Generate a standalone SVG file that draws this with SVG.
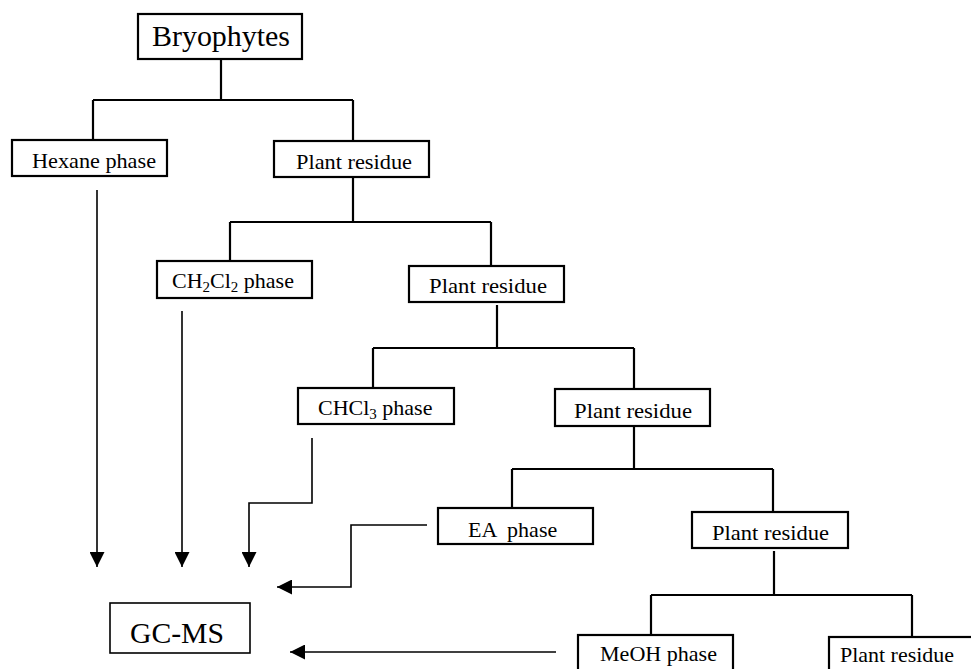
<svg xmlns="http://www.w3.org/2000/svg" width="971" height="669" viewBox="0 0 971 669">
<defs>
<style>
.box{fill:#fff;stroke:#000;stroke-width:2.2}
.t{font-family:"Liberation Serif","Times New Roman",serif;font-size:22px;fill:#000}
.big{font-size:30px}
.tree{fill:none;stroke:#000;stroke-width:2.2}
.arr{fill:none;stroke:#000;stroke-width:1.6}
</style>
<marker id="ah" viewBox="0 0 10 10" refX="10" refY="5" markerWidth="15" markerHeight="15" markerUnits="userSpaceOnUse" orient="auto">
<path d="M0,0 L10,5 L0,10 Z" fill="#000"/>
</marker>
</defs>
<rect width="971" height="669" fill="#fff"/>
<g id="connectors">
<path class="tree" d="M221,59 V100 M93,100 H353 M93,100 V140 M353,100 V141"/>
<path class="tree" d="M353,177 V222 M230,222 H491 M230,222 V261 M491,222 V266"/>
<path class="tree" d="M497,305 V348 M373,348 H634 M373,348 V388 M634,348 V389"/>
<path class="tree" d="M634,426 V469 M512,469 H773 M512,469 V508 M773,469 V512"/>
<path class="tree" d="M774,551 V595 M651,595 H912 M651,595 V635 M912,595 V637"/>
<path class="arr" d="M97,190 V567" marker-end="url(#ah)"/>
<path class="arr" d="M182,311 V567" marker-end="url(#ah)"/>
<path class="arr" d="M312,438 V503 H249 V567" marker-end="url(#ah)"/>
<path class="arr" d="M427,525 H351 V587 H277" marker-end="url(#ah)"/>
<path class="arr" d="M556,652 H290" marker-end="url(#ah)"/>
</g>
<g id="bryophytes"><rect class="box" x="138" y="14" width="164" height="45"/><text class="t big" x="152" y="46" textLength="138" lengthAdjust="spacingAndGlyphs">Bryophytes</text></g>
<g id="hexane"><rect class="box" x="12" y="140" width="155" height="36"/><text class="t" x="32" y="168" textLength="124" lengthAdjust="spacingAndGlyphs">Hexane phase</text></g>
<g id="residue1"><rect class="box" x="274" y="141" width="155" height="36"/><text class="t" x="296" y="169" textLength="116" lengthAdjust="spacingAndGlyphs">Plant residue</text></g>
<g id="ch2cl2"><rect class="box" x="157" y="261" width="155" height="37"/><text class="t" x="172" y="288">CH<tspan font-size="15" dy="4">2</tspan><tspan dy="-4">Cl</tspan><tspan font-size="15" dy="4">2</tspan><tspan dy="-4"> phase</tspan></text></g>
<g id="residue2"><rect class="box" x="409" y="266" width="155" height="36"/><text class="t" x="429" y="293" textLength="118" lengthAdjust="spacingAndGlyphs">Plant residue</text></g>
<g id="chcl3"><rect class="box" x="298" y="388" width="156" height="36"/><text class="t" x="318" y="415">CHCl<tspan font-size="15" dy="4">3</tspan><tspan dy="-4"> phase</tspan></text></g>
<g id="residue3"><rect class="box" x="555" y="389" width="155" height="37"/><text class="t" x="574" y="418" textLength="118" lengthAdjust="spacingAndGlyphs">Plant residue</text></g>
<g id="ea"><rect class="box" x="438" y="508" width="155" height="36"/><text class="t" x="468" y="537" xml:space="preserve">EA  phase</text></g>
<g id="residue4"><rect class="box" x="692" y="512" width="156" height="36"/><text class="t" x="712" y="540" textLength="117" lengthAdjust="spacingAndGlyphs">Plant residue</text></g>
<g id="gcms"><rect class="box" x="110" y="603" width="140" height="50" style="stroke-width:1.6"/><text class="t big" x="130" y="643" textLength="94" lengthAdjust="spacingAndGlyphs">GC-MS</text></g>
<g id="meoh"><rect class="box" x="578" y="635" width="155" height="45"/><text class="t" x="600" y="661" textLength="117" lengthAdjust="spacingAndGlyphs">MeOH phase</text></g>
<g id="residue5"><rect class="box" x="829" y="637" width="160" height="45"/><text class="t" x="840" y="662" textLength="114" lengthAdjust="spacingAndGlyphs">Plant residue</text></g>
</svg>
